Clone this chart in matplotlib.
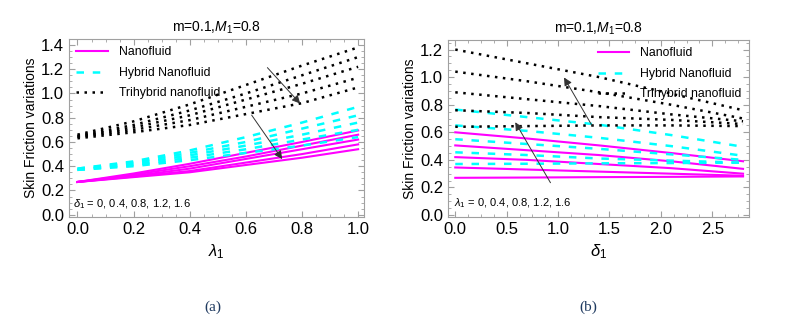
import matplotlib.pyplot as plt
from matplotlib.ticker import AutoMinorLocator

plt.rcParams['font.family'] = ['Liberation Sans', 'DejaVu Sans']
plt.rcParams['mathtext.fontset'] = 'custom'
plt.rcParams['mathtext.rm'] = 'Liberation Sans'
plt.rcParams['mathtext.it'] = 'Liberation Sans:italic'

# (a) skin friction vs lambda_1, delta_1 = 0, 0.4, 0.8, 1.2, 1.6
lam = [0.0, 0.2, 0.4, 0.6, 0.8, 1.0]
nano_a = [
    [0.27, 0.34, 0.42, 0.51, 0.60, 0.695],
    [0.27, 0.33, 0.40, 0.48, 0.57, 0.66],
    [0.27, 0.32, 0.38, 0.46, 0.54, 0.62],
    [0.27, 0.315, 0.36, 0.43, 0.50, 0.58],
    [0.27, 0.31, 0.35, 0.41, 0.47, 0.54],
]
hybrid_a = [
    [0.38, 0.44, 0.53, 0.64, 0.76, 0.89],
    [0.38, 0.43, 0.51, 0.60, 0.71, 0.82],
    [0.37, 0.42, 0.49, 0.57, 0.66, 0.76],
    [0.37, 0.41, 0.47, 0.54, 0.62, 0.70],
    [0.37, 0.40, 0.45, 0.51, 0.57, 0.64],
]
tri_a = [
    [0.66, 0.77, 0.91, 1.07, 1.23, 1.38],
    [0.65, 0.74, 0.86, 1.00, 1.15, 1.30],
    [0.645, 0.72, 0.82, 0.95, 1.08, 1.22],
    [0.64, 0.70, 0.78, 0.89, 1.00, 1.13],
    [0.63, 0.68, 0.74, 0.83, 0.92, 1.05],
]

# (b) skin friction vs delta_1, lambda_1 = 0, 0.4, 0.8, 1.2, 1.6
dlt = [0.0, 0.7, 1.4, 2.1, 2.8]
nano_b = [
    [0.60, 0.555, 0.505, 0.45, 0.39],
    [0.505, 0.47, 0.435, 0.39, 0.335],
    [0.42, 0.40, 0.37, 0.34, 0.30],
    [0.345, 0.33, 0.315, 0.30, 0.285],
    [0.27, 0.272, 0.275, 0.277, 0.28],
]
hybrid_b = [
    [0.765, 0.71, 0.655, 0.58, 0.495],
    [0.65, 0.61, 0.56, 0.50, 0.43],
    [0.55, 0.515, 0.48, 0.44, 0.40],
    [0.455, 0.435, 0.41, 0.395, 0.38],
    [0.37, 0.372, 0.375, 0.377, 0.38],
]
tri_b = [
    [1.20, 1.10, 1.00, 0.88, 0.76],
    [1.04, 0.97, 0.89, 0.80, 0.70],
    [0.89, 0.84, 0.79, 0.73, 0.68],
    [0.76, 0.74, 0.71, 0.69, 0.66],
    [0.64, 0.645, 0.65, 0.65, 0.645],
]

labels = ['Nanofluid', 'Hybrid Nanofluid', 'Trihybrid nanofluid']
frame_col = '#a0a0a0'

fig = plt.figure(figsize=(8.03, 3.27), dpi=100)
ax1 = fig.add_axes([0.086, 0.336, 0.367, 0.545])
ax2 = fig.add_axes([0.558, 0.336, 0.375, 0.542])


def draw(ax, x, nano, hybrid, tri):
    for i in range(5):
        ax.plot(x, nano[i], color='#ff00ff', lw=1.5, ls='-',
                label=labels[0] if i == 0 else None)
        ax.plot(x, hybrid[i], color='#00ffff', lw=1.8, ls=(0, (3, 3.5)),
                label=labels[1] if i == 0 else None)
        ax.plot(x, tri[i], color='black', lw=1.8, ls=(0, (1, 2.2)),
                label=labels[2] if i == 0 else None)


def style(ax):
    for s in ax.spines.values():
        s.set_color(frame_col)
        s.set_linewidth(0.8)
    ax.xaxis.set_minor_locator(AutoMinorLocator(4))
    ax.yaxis.set_minor_locator(AutoMinorLocator(4))
    ax.tick_params(which='both', direction='in', top=True, right=True,
                   color=frame_col, labelsize=12)
    ax.tick_params(which='major', length=4)
    ax.tick_params(which='minor', length=2)
    ax.set_ylabel('Skin Friction variations', fontsize=10, labelpad=2)
    ax.set_title('m=0.1,$M_1$=0.8', fontsize=10, pad=5)


arrow = dict(arrowstyle='-|>', color='#333333', lw=0.7, mutation_scale=12)

# panel (a)
draw(ax1, lam, nano_a, hybrid_a, tri_a)
style(ax1)
ax1.set_xlim(-0.03, 1.02)
ax1.set_ylim(-0.02, 1.45)
ax1.set_xticks([0.0, 0.2, 0.4, 0.6, 0.8, 1.0])
ax1.set_yticks([0.0, 0.2, 0.4, 0.6, 0.8, 1.0, 1.2, 1.4])
ax1.set_xlabel(r'$\lambda_1$', fontsize=12, labelpad=4)
ax1.legend(loc='upper left', frameon=False, fontsize=8.8, handlelength=2.6,
           borderaxespad=0.3, labelspacing=0.7, handletextpad=0.9,
           borderpad=0.3)
ax1.text(-0.015, 0.09, r'$\delta_1$ = 0, 0.4, 0.8, 1.2, 1.6', fontsize=8,
         va='center')
ax1.annotate('', xy=(0.80, 0.90), xytext=(0.67, 1.23), arrowprops=arrow)
ax1.annotate('', xy=(0.735, 0.44), xytext=(0.615, 0.84), arrowprops=arrow)

# panel (b)
draw(ax2, dlt, nano_b, hybrid_b, tri_b)
style(ax2)
ax2.set_xlim(-0.07, 2.86)
ax2.set_ylim(-0.015, 1.27)
ax2.set_xticks([0.0, 0.5, 1.0, 1.5, 2.0, 2.5])
ax2.set_yticks([0.0, 0.2, 0.4, 0.6, 0.8, 1.0, 1.2])
ax2.set_xlabel(r'$\delta_1$', fontsize=12, labelpad=4)
ax2.legend(loc='upper right', frameon=False, fontsize=8.8, handlelength=2.6,
           borderaxespad=0.3, labelspacing=0.7, handletextpad=0.9,
           borderpad=0.3)
ax2.text(-0.01, 0.085, r'$\lambda_1$ = 0, 0.4, 0.8, 1.2, 1.6', fontsize=8,
         va='center')
ax2.annotate('', xy=(1.045, 1.015), xytext=(1.345, 0.63), arrowprops=arrow)
ax2.annotate('', xy=(0.57, 0.69), xytext=(0.94, 0.217), arrowprops=arrow)

fig.text(213 / 803, 1 - 307 / 327, '(a)', family='Liberation Serif',
         fontsize=11, color='#1f3a60', ha='center', va='center')
fig.text(588 / 803, 1 - 307 / 327, '(b)', family='Liberation Serif',
         fontsize=11, color='#1f3a60', ha='center', va='center')

fig.savefig('out.png', dpi=100)
